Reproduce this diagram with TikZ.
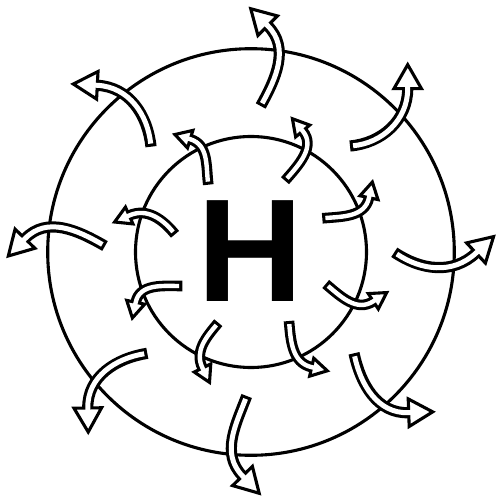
\documentclass[tikz,border=0pt]{standalone}
\usepackage{fontspec}
\newfontfamily\hfont{Liberation Sans}
\def\lw{3.1pt}
% #1 tail, #2 out angle, #3 head base, #4 head direction,
% #5 band width, #6 inner band width, #7 head half width, #8 head length
\newcommand{\swirl}[8]{%
  \pgfmathsetmacro{\inang}{#4+180}%
  \draw[line width=#5, line cap=butt] #1 to[out=#2,in=\inang] #3;
  \filldraw[fill=white, line width=\lw, line join=miter, shift={#3}, rotate=#4]
     (0,#7) -- (#8,0) -- (0,-#7) -- cycle;
  \draw[white, line width=#6, line cap=butt, shorten <=\lw] #1 to[out=#2,in=\inang] #3 -- ++(#4:3);
}
\newcommand{\outarrow}[4]{\swirl{#1}{#2}{#3}{#4}{11.2pt}{5pt}{13.8}{24}}
\newcommand{\inarrow}[4]{\swirl{#1}{#2}{#3}{#4}{10.6pt}{4.4pt}{9.2}{16}}
\begin{document}
\begin{tikzpicture}[x=1pt,y=1pt]
\useasboundingbox (0,0) rectangle (498,504);
\draw[line width=\lw] (251,252) circle[radius=203.3pt];
\draw[line width=\lw] (251,252) circle[radius=115.5pt];
\node[font=\hfont\bfseries\fontsize{146.6}{150}\selectfont, inner sep=0pt] (H) at (250.5,252.5) {H};
% outer arrows
\outarrow{(260.7,398)}{61}{(267.7,478.3)}{135}
\outarrow{(350,358)}{5}{(407.7,415.3)}{90}
\outarrow{(394.3,251.7)}{-34}{(476,251)}{43}
\outarrow{(354,150.7)}{-78}{(408.7,91.3)}{2}
\outarrow{(246.7,108)}{-111}{(242.5,28)}{-46}
\outarrow{(147.3,150.7)}{189}{(87.8,96)}{271}
\outarrow{(105,258)}{150}{(25,265.3)}{226}
\outarrow{(151,357.3)}{96}{(97.3,418.7)}{177}
% inner arrows
\inarrow{(208.3,319.3)}{97}{(190.2,364.8)}{163}
\inarrow{(285,323.3)}{49}{(302.7,373)}{130}
\inarrow{(322.3,285.7)}{5}{(369,306.3)}{78}
\inarrow{(325.7,220)}{-40}{(373.3,202.7)}{33}
\inarrow{(289,183)}{-85}{(311.7,136.8)}{-13}
\inarrow{(218.3,181.3)}{-130}{(202.5,136)}{-64}
\inarrow{(182.3,218)}{180}{(135.7,201.7)}{258}
\inarrow{(175,269.7)}{129}{(129.2,288.5)}{204}
\end{tikzpicture}
\end{document}
